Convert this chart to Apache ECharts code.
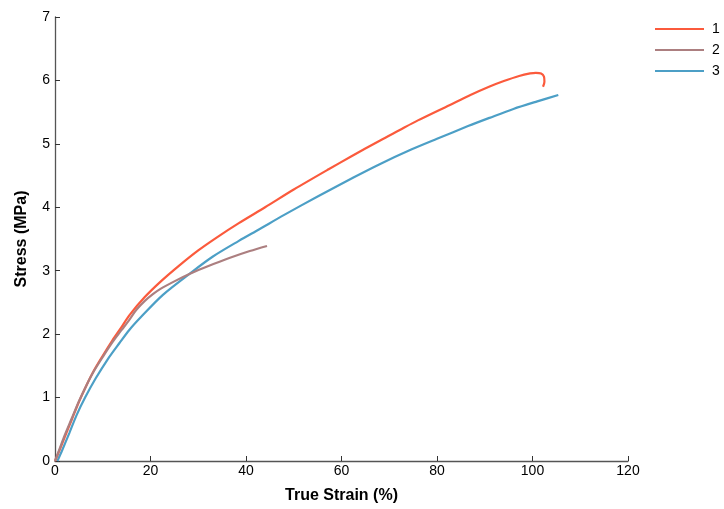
<!DOCTYPE html>
<html>
<head>
<meta charset="utf-8">
<script src="https://cdn.jsdelivr.net/npm/echarts@6/dist/echarts.min.js"></script>
<style>html,body{margin:0;padding:0;background:#fff;}#c{width:724px;height:509px;}</style>
</head>
<body>
<div id="c"></div>
<script>
var seriesNames = ['1', '2', '3'];
var xTicks = [0, 20, 40, 60, 80, 100, 120];
var yTicks = [0, 1, 2, 3, 4, 5, 6, 7];

var strain1 = [0, 1, 2, 3.5, 5, 6.5, 8.1, 10, 12, 14, 15.6, 18.75, 22, 26, 30, 34, 38.5, 44, 50, 57.3, 62, 68, 72, 76, 82.6, 87, 90.9, 94, 97.2, 99.5, 100.7, 101.8, 102.4, 102.5, 102.2];
var stress1 = [0, 0.18, 0.37, 0.65, 0.93, 1.18, 1.42, 1.66, 1.9, 2.12, 2.3, 2.58, 2.82, 3.08, 3.32, 3.53, 3.75, 4.0, 4.28, 4.6, 4.8, 5.05, 5.21, 5.37, 5.61, 5.77, 5.90, 5.99, 6.07, 6.11, 6.12, 6.11, 6.06, 5.98, 5.90];

var strain2 = [0, 1, 2, 3.5, 5, 6.5, 8.1, 10, 12, 14, 15.6, 17, 18.75, 20.5, 22, 25.2, 28.5, 32, 36.5, 40.8, 44.4];
var stress2 = [0, 0.2, 0.4, 0.67, 0.94, 1.18, 1.41, 1.64, 1.87, 2.07, 2.23, 2.38, 2.52, 2.63, 2.71, 2.84, 2.96, 3.07, 3.2, 3.31, 3.39];

var strain3 = [0.5, 1.5, 3, 4.5, 6.3, 8.5, 11, 13.5, 15.6, 18, 22.6, 28.5, 33, 38.5, 42.7, 48, 55, 62.5, 68, 74.6, 80, 86.5, 91, 96, 101, 105.4];
var stress3 = [0, 0.17, 0.44, 0.72, 1.0, 1.3, 1.6, 1.86, 2.07, 2.27, 2.62, 2.97, 3.22, 3.47, 3.65, 3.88, 4.17, 4.47, 4.68, 4.91, 5.08, 5.28, 5.41, 5.55, 5.67, 5.77];

var colors = ['#fb5a3c', '#ac7f80', '#4c9fc6'];

function pairs(xs, ys) { return xs.map(function (x, i) { return [x, ys[i]]; }); }

var chart = echarts.init(document.getElementById('c'));
var font = 'Liberation Sans, Arial, Helvetica, sans-serif';
var axisCommon = {
  axisLine: { show: true, lineStyle: { color: '#555', width: 1.3 } },
  axisTick: { show: true, inside: true, length: 5, lineStyle: { color: '#333' } },
  splitLine: { show: false },
  axisLabel: { color: '#000', fontSize: 14, fontFamily: font },
  nameTextStyle: { color: '#000', fontSize: 16, fontWeight: 'bold', fontFamily: font }
};
chart.setOption({
  backgroundColor: '#fff',
  animation: false,
  grid: { left: 55, top: 17, right: 96, bottom: 48, containLabel: false },
  legend: {
    orient: 'vertical', left: 655, top: 22, itemGap: 7, padding: 0,
    itemWidth: 49, itemHeight: 2, icon: 'rect',
    textStyle: { color: '#000', fontSize: 14, fontFamily: font, padding: [0, 0, 0, 3] },
    data: seriesNames
  },
  xAxis: Object.assign({}, axisCommon, {
    type: 'value', min: xTicks[0], max: xTicks[xTicks.length - 1], interval: 20,
    name: 'True Strain (%)', nameLocation: 'middle', nameGap: 27,
    axisLabel: Object.assign({}, axisCommon.axisLabel, { margin: 3 })
  }),
  yAxis: Object.assign({}, axisCommon, {
    type: 'value', min: yTicks[0], max: yTicks[yTicks.length - 1], interval: 1,
    name: 'Stress (MPa)', nameLocation: 'middle', nameGap: 25,
    axisLabel: Object.assign({}, axisCommon.axisLabel, { margin: 5 })
  }),
  series: [
    { name: seriesNames[0], type: 'line', data: pairs(strain1, stress1), showSymbol: false, smooth: 0.3, lineStyle: { color: colors[0], width: 2.2 }, itemStyle: { color: colors[0] }, z: 3 },
    { name: seriesNames[1], type: 'line', data: pairs(strain2, stress2), showSymbol: false, smooth: 0.3, lineStyle: { color: colors[1], width: 2.2 }, itemStyle: { color: colors[1] }, z: 4 },
    { name: seriesNames[2], type: 'line', data: pairs(strain3, stress3), showSymbol: false, smooth: 0.3, lineStyle: { color: colors[2], width: 2.2 }, itemStyle: { color: colors[2] }, z: 2 }
  ]
});
</script>
</body>
</html>
